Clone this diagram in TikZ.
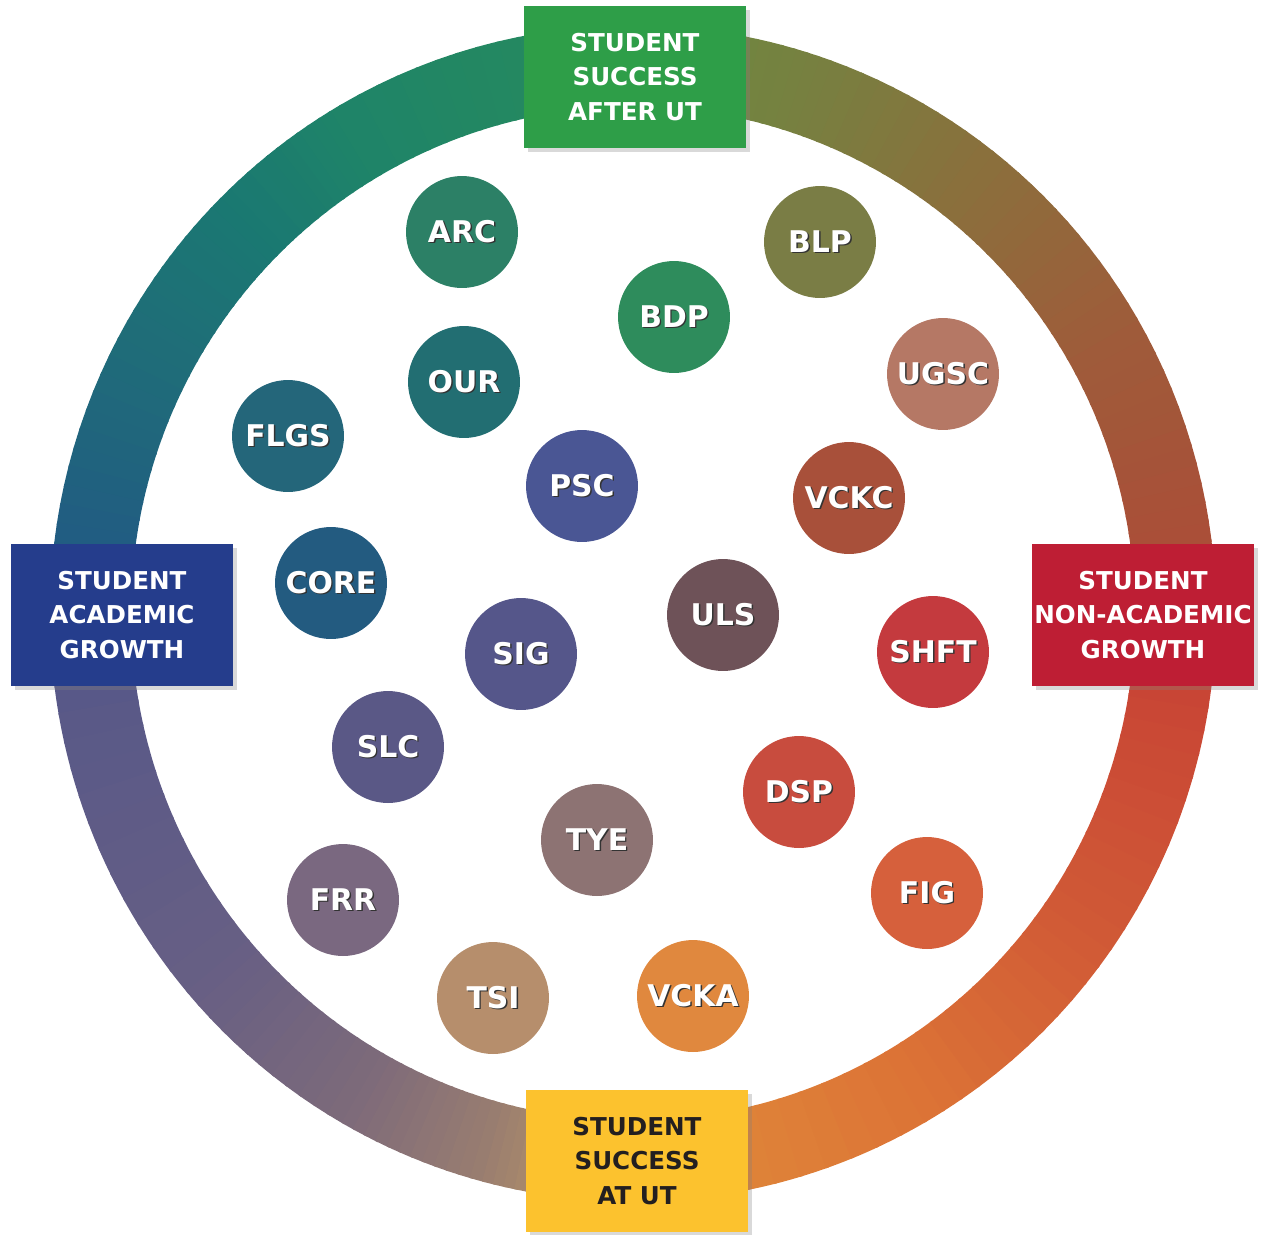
\documentclass[tikz,border=0pt]{standalone}
\usepackage{fontspec}
\setmainfont{DejaVu Sans}
\usepackage{xcolor}
\usepackage{tikz}
\usetikzlibrary{shadows}

\definecolor{boxgreen}{HTML}{2E9E48}
\definecolor{boxblue}{HTML}{253D8C}
\definecolor{boxred}{HTML}{BE1E34}
\definecolor{boxyellow}{HTML}{FCC22E}
\definecolor{boxtext}{HTML}{231F20}

% ring colours
\definecolor{r0}{HTML}{E08E3A}
\definecolor{r1}{HTML}{DC7436}
\definecolor{r2}{HTML}{D05A36}
\definecolor{r3}{HTML}{C84435}
\definecolor{r4}{HTML}{AA4E38}
\definecolor{r5}{HTML}{9E5C3A}
\definecolor{r6}{HTML}{8C6E3C}
\definecolor{r7}{HTML}{787F40}
\definecolor{r8}{HTML}{6E8840}
\definecolor{r9}{HTML}{268A5E}
\definecolor{r10}{HTML}{1F8468}
\definecolor{r11}{HTML}{1A7872}
\definecolor{r12}{HTML}{1F6E78}
\definecolor{r13}{HTML}{215C82}
\definecolor{r14}{HTML}{585888}
\definecolor{r15}{HTML}{675F84}
\definecolor{r16}{HTML}{7D6A7A}
\definecolor{r17}{HTML}{9A7E70}
\definecolor{r18}{HTML}{C39C63}

% unit colours
\definecolor{cARC}{HTML}{2C8066}
\definecolor{cOUR}{HTML}{226E72}
\definecolor{cFLGS}{HTML}{24667A}
\definecolor{cCORE}{HTML}{235B80}
\definecolor{cPSC}{HTML}{4A5694}
\definecolor{cSIG}{HTML}{55568A}
\definecolor{cSLC}{HTML}{5A5886}
\definecolor{cFRR}{HTML}{7A6880}
\definecolor{cTSI}{HTML}{B68E6C}
\definecolor{cTYE}{HTML}{8D7373}
\definecolor{cULS}{HTML}{6E5258}
\definecolor{cVCKA}{HTML}{E0883E}
\definecolor{cFIG}{HTML}{D6603C}
\definecolor{cDSP}{HTML}{C84C3E}
\definecolor{cSHFT}{HTML}{C43A3E}
\definecolor{cVCKC}{HTML}{A8503A}
\definecolor{cUGSC}{HTML}{B57865}
\definecolor{cBLP}{HTML}{7A7D45}
\definecolor{cBDP}{HTML}{2E8C5C}

\newcommand\shd[1]{\rlap{\kern0.8pt\raisebox{-0.8pt}{\color{black!80}#1}}#1}

\tikzset{
  unit/.style={circle, minimum size=2.24cm, inner sep=0pt, text=white,
    font=\fontsize{17}{20}\selectfont\bfseries},
  goal/.style={minimum width=4.44cm, minimum height=2.84cm, inner sep=0pt,
    align=center, text=white, font=\fontsize{14}{19.5}\selectfont\bfseries,
    drop shadow={shadow xshift=2.5pt, shadow yshift=-2.5pt, opacity=0.3}}
}

\begin{document}
\begin{tikzpicture}[x=0.02cm, y=-0.02cm]
\useasboundingbox (0,0) rectangle (1261,1234);

% Colour ring
\begin{scope}[shift={(633,613.5)}, y=0.02cm]
\foreach \aa/\ca/\ab/\cb in {-92/r0/-60/r1, -60/r1/-35/r2, -35/r2/-7/r3,
    -7/r3/7/r4, 7/r4/30/r5, 30/r5/50/r6, 50/r6/70/r7, 70/r7/85/r8,
    85/r8/95/r9, 95/r9/120/r10, 120/r10/135/r11, 135/r11/150/r12,
    150/r12/173/r13, 173/r13/187/r14, 187/r14/220/r15, 220/r15/240/r16,
    240/r16/255/r17, 255/r17/268/r18}{
  \foreach \k in {0,...,11}{
    \pgfmathsetmacro\sa{\aa+(\ab-\aa)*\k/12}
    \pgfmathsetmacro\sb{\aa+(\ab-\aa)*(\k+1)/12+0.3}
    \pgfmathtruncatemacro\pc{100*(\k+0.5)/12}
    \fill[\cb!\pc!\ca] (\sa:583 and 588)
      arc[start angle=\sa, end angle=\sb, x radius=583, y radius=588]
      -- (\sb:502 and 507)
      arc[start angle=\sb, end angle=\sa, x radius=502, y radius=507] -- cycle;
  }
}
\end{scope}

% Goal boxes
\node[goal, fill=boxgreen] (after) at (635,77) {STUDENT\\SUCCESS\\AFTER UT};
\node[goal, fill=boxblue] (academic) at (122,615) {STUDENT\\ACADEMIC\\GROWTH};
\node[goal, fill=boxred] (nonacademic) at (1143,615) {STUDENT\\NON-ACADEMIC\\GROWTH};
\node[goal, fill=boxyellow, text=boxtext] (atut) at (637,1161) {STUDENT\\SUCCESS\\AT UT};

% Units
\node[unit, fill=cARC] (arc) at (462,232) {\shd{ARC}};
\node[unit, fill=cBLP] (blp) at (820,242) {\shd{BLP}};
\node[unit, fill=cBDP] (bdp) at (674,317) {\shd{BDP}};
\node[unit, fill=cUGSC] (ugsc) at (943,374) {\shd{UGSC}};
\node[unit, fill=cOUR] (our) at (464,382) {\shd{OUR}};
\node[unit, fill=cFLGS] (flgs) at (288,436) {\shd{FLGS}};
\node[unit, fill=cPSC] (psc) at (582,486) {\shd{PSC}};
\node[unit, fill=cVCKC] (vckc) at (849,498) {\shd{VCKC}};
\node[unit, fill=cCORE] (core) at (331,583) {\shd{CORE}};
\node[unit, fill=cULS] (uls) at (723,615) {\shd{ULS}};
\node[unit, fill=cSIG] (sig) at (521,654) {\shd{SIG}};
\node[unit, fill=cSHFT] (shft) at (933,652) {\shd{SHFT}};
\node[unit, fill=cSLC] (slc) at (388,747) {\shd{SLC}};
\node[unit, fill=cDSP] (dsp) at (799,792) {\shd{DSP}};
\node[unit, fill=cTYE] (tye) at (597,840) {\shd{TYE}};
\node[unit, fill=cFRR] (frr) at (343,900) {\shd{FRR}};
\node[unit, fill=cFIG] (fig) at (927,893) {\shd{FIG}};
\node[unit, fill=cTSI] (tsi) at (493,998) {\shd{TSI}};
\node[unit, fill=cVCKA] (vcka) at (693,996) {\shd{VCKA}};
\end{tikzpicture}
\end{document}
